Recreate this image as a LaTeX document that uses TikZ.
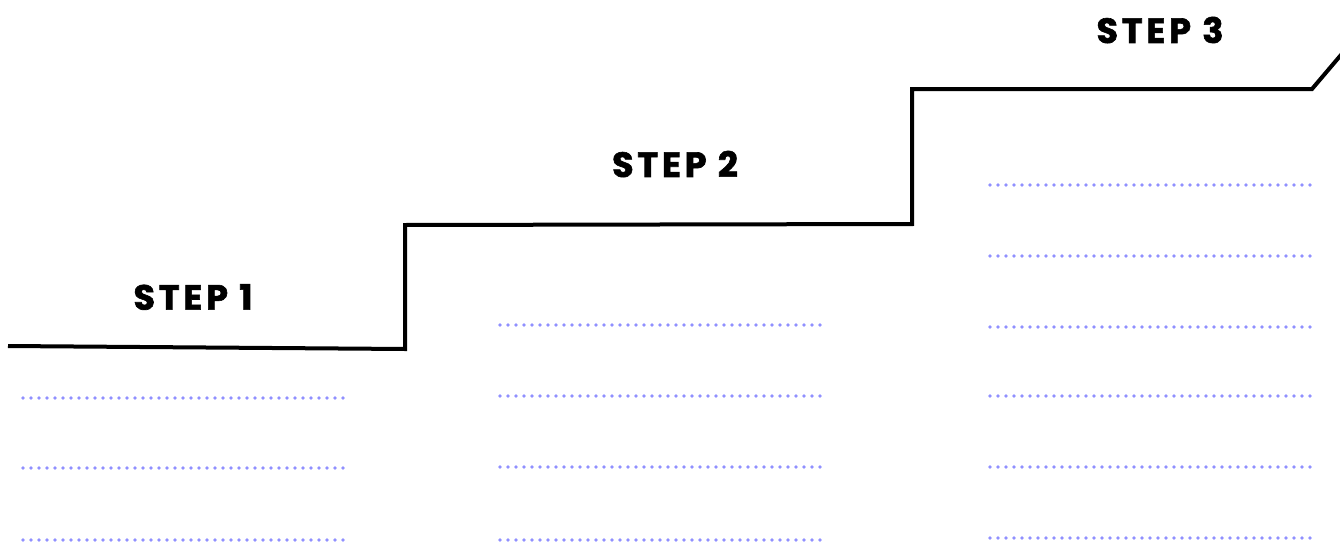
\documentclass[tikz,border=0pt]{standalone}
\usepackage{fontspec}
\newfontfamily\stepfont[LetterSpace=11,FakeBold=1.8]{Poppins Bold}
\definecolor{dotblue}{HTML}{9090FF}
\tikzset{
  stair/.style={line width=4pt, black, line join=miter},
  dot/.style={fill=dotblue},
  steplabel/.style={font=\stepfont\fontsize{35}{35}\selectfont, inner sep=0pt, anchor=center}
}
\newcommand{\dotrow}[2]{%
  \foreach \i in {0,...,40} \fill[dot] (#1+\i*8.0,#2) circle (1.9pt);}
\begin{document}
\begin{tikzpicture}[x=1pt,y=-1pt]
\useasboundingbox (0,0) rectangle (1340,543);
\clip (0,0) rectangle (1340,543);
% stair path
\coordinate (p0) at (8,346);
\coordinate (p1) at (405,349);
\coordinate (p2) at (405,225);
\coordinate (p3) at (912,224);
\coordinate (p4) at (912,89);
\coordinate (p5) at (1312,89);
\coordinate (p6) at (1346,49);
\draw[stair] (p0) -- (p1) -- (p2) -- (p3) -- (p4) -- (p5) -- (p6);
% labels
\node[steplabel] (s1) at (193,297) {STEP 1};
\node[steplabel] (s2) at (675,164) {STEP 2};
\node[steplabel] (s3) at (1160,30) {STEP 3};
% dotted rows
\foreach \y in {398,468,540} {\dotrow{23}{\y}}
\foreach \y in {325,396,467,540} {\dotrow{500}{\y}}
\foreach \y in {185,256,327,396,467,538} {\dotrow{990}{\y}}
\end{tikzpicture}
\end{document}
